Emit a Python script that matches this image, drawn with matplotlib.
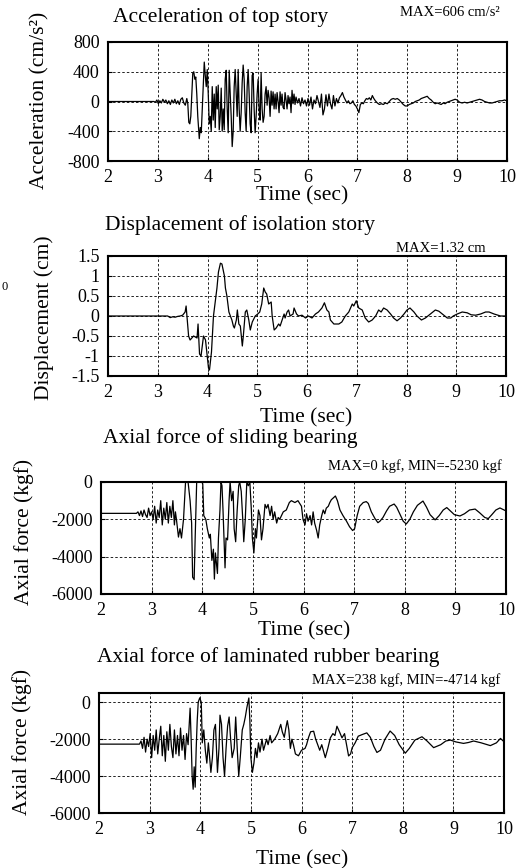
import matplotlib
matplotlib.use("Agg")
import matplotlib.pyplot as plt
from matplotlib.ticker import FormatStrFormatter

plt.rcParams['font.family'] = ['Liberation Serif', 'DejaVu Serif']
plt.rcParams['axes.unicode_minus'] = False

# ---- data: (time [s], value) ----
acc_pts = [
    (2.0, 0), (2.92, 0), (2.95, -10), (2.98, 20), (3.01, -30), (3.04, 10), (3.07, -20), (3.10, 30),
    (3.13, -10), (3.16, 20), (3.19, -30), (3.22, 10), (3.25, -40), (3.28, 20), (3.31, -20), (3.34, 30),
    (3.37, -30), (3.40, 10), (3.43, -40), (3.46, 30), (3.49, 50), (3.52, -20), (3.55, -50), (3.58, 40),
    (3.60, -30), (3.62, -280), (3.64, -300), (3.66, -200), (3.68, 100), (3.70, 380), (3.72, 400),
    (3.74, 300), (3.76, 330), (3.78, 100), (3.80, -200), (3.83, -500), (3.85, -350), (3.87, -420),
    (3.89, -100), (3.91, 200), (3.93, 530), (3.95, 350), (3.97, 200), (3.99, 430), (4.01, 100),
    (4.03, -300), (4.05, -200), (4.07, -400), (4.09, 200), (4.11, -250), (4.13, 100), (4.15, -350),
    (4.17, 200), (4.19, -100), (4.21, 220), (4.23, -380), (4.25, -200), (4.27, 180), (4.29, -400),
    (4.31, -100), (4.33, -380), (4.35, 300), (4.37, 420), (4.39, -100), (4.41, -420), (4.43, 420),
    (4.45, 100), (4.47, -200), (4.49, -606), (4.51, -400), (4.53, 200), (4.55, 430), (4.57, 100),
    (4.59, -200), (4.61, 430), (4.63, -100), (4.65, -400), (4.67, -150), (4.69, 250), (4.71, 490),
    (4.73, 300), (4.75, -150), (4.77, -400), (4.79, 200), (4.81, 430), (4.83, 100), (4.85, -300),
    (4.87, -420), (4.89, 350), (4.91, 380), (4.93, -100), (4.95, -420), (4.97, -200), (4.99, 100),
    (5.01, 300), (5.03, -100), (5.05, -250), (5.07, 380), (5.09, -100), (5.11, -280), (5.13, -200),
    (5.15, 100), (5.17, 200), (5.19, -50), (5.21, 150), (5.23, 50), (5.25, -200), (5.27, 140),
    (5.29, -50), (5.31, 130), (5.33, -100), (5.35, 100), (5.37, -100), (5.39, 120), (5.41, 0),
    (5.43, -150), (5.45, 130), (5.47, -50), (5.49, 100), (5.51, -80), (5.53, -100), (5.55, 120),
    (5.57, 20), (5.59, -100), (5.61, 80), (5.63, -30), (5.65, 60), (5.67, -150), (5.69, 150),
    (5.71, -30), (5.73, 100), (5.75, -40), (5.77, 60), (5.80, -20), (5.83, 40), (5.86, -60),
    (5.89, 50), (5.92, -30), (5.95, 20), (5.98, -60), (6.01, 40), (6.04, -50), (6.07, 60),
    (6.10, -100), (6.13, 20), (6.16, -30), (6.19, 80), (6.22, 0), (6.25, -80), (6.28, 100),
    (6.31, -180), (6.34, -100), (6.37, 90), (6.40, -60), (6.43, 100), (6.46, -30), (6.49, -100),
    (6.52, 80), (6.55, -60), (6.58, 40), (6.61, -20), (6.64, 50), (6.67, 80), (6.70, 120),
    (6.73, 60), (6.76, 20), (6.79, -20), (6.82, 10), (6.85, -30), (6.88, -20), (6.91, 10),
    (6.94, -40), (6.97, -60), (7.00, -100), (7.03, -150), (7.06, -40), (7.09, -20), (7.12, -30),
    (7.15, 10), (7.18, 40), (7.21, 30), (7.24, 50), (7.27, 20), (7.30, 80), (7.33, 40), (7.36, 10),
    (7.40, -20), (7.44, -40), (7.48, -30), (7.52, -40), (7.56, -20), (7.60, -30), (7.64, 0),
    (7.68, 30), (7.72, 40), (7.76, 30), (7.80, 40), (7.84, 20), (7.88, -10), (7.92, -40),
    (7.96, -60), (8.00, -60), (8.04, -40), (8.08, -30), (8.12, -20), (8.16, 0), (8.20, 10),
    (8.24, 20), (8.28, 40), (8.32, 50), (8.36, 60), (8.40, 70), (8.44, 40), (8.48, 20),
    (8.52, -10), (8.56, -30), (8.60, -20), (8.64, -30), (8.68, -40), (8.72, -20), (8.76, -30),
    (8.80, -10), (8.84, 0), (8.88, 10), (8.92, 20), (8.96, 30), (9.00, 20), (9.05, -10),
    (9.10, -20), (9.15, -10), (9.20, -20), (9.25, -10), (9.30, 0), (9.35, 10), (9.40, 20),
    (9.45, 30), (9.50, 20), (9.55, 0), (9.60, -10), (9.65, -20), (9.70, -20), (9.75, -10),
    (9.80, 0), (9.85, 10), (9.90, 10), (9.95, 20), (10.0, 10),
]

disp_pts = [
    (2.0, 0), (3.2, 0), (3.25, -0.04), (3.3, -0.02), (3.35, -0.03), (3.4, -0.01), (3.45, 0.0),
    (3.5, 0.02), (3.55, 0.1), (3.57, 0.25), (3.62, -0.5), (3.65, -0.6), (3.72, -0.5), (3.79, -0.55),
    (3.81, -0.2), (3.84, -0.95), (3.87, -1.0), (3.92, -0.5), (3.96, -0.6), (4.02, -1.3),
    (4.04, -1.35), (4.08, -0.9), (4.12, 0.0), (4.19, 0.7), (4.22, 1.1), (4.26, 1.32), (4.29, 1.3),
    (4.34, 1.0), (4.36, 0.7), (4.39, 0.5), (4.43, 0.1), (4.46, 0.0), (4.49, -0.1), (4.52, -0.25),
    (4.54, -0.3), (4.58, -0.1), (4.60, 0.15), (4.63, -0.2), (4.66, -0.25), (4.70, -0.75),
    (4.72, -0.5), (4.76, 0.1), (4.79, 0.15), (4.83, -0.1), (4.86, -0.35), (4.90, -0.15),
    (4.96, 0.0), (5.01, 0.05), (5.05, 0.1), (5.09, 0.3), (5.13, 0.7), (5.16, 0.6), (5.19, 0.55),
    (5.23, 0.3), (5.28, 0.35), (5.30, 0.0), (5.34, -0.35), (5.38, -0.3), (5.43, -0.2),
    (5.46, -0.25), (5.50, -0.1), (5.54, 0.05), (5.56, -0.05), (5.60, 0.1), (5.63, 0.15),
    (5.66, 0.0), (5.72, 0.05), (5.74, 0.2), (5.79, 0.05), (5.83, 0.0), (5.90, 0.02), (5.97, -0.05),
    (6.03, 0.0), (6.10, -0.05), (6.17, 0.05), (6.23, 0.1), (6.30, 0.2), (6.35, 0.33), (6.40, 0.15),
    (6.44, 0.1), (6.47, -0.1), (6.54, -0.2), (6.64, -0.2), (6.70, -0.15), (6.77, 0.0), (6.84, 0.1),
    (6.91, 0.3), (6.94, 0.25), (6.99, 0.38), (7.04, 0.2), (7.11, 0.15), (7.17, -0.05),
    (7.24, -0.15), (7.31, -0.1), (7.38, 0.0), (7.44, 0.15), (7.49, 0.1), (7.54, 0.2), (7.61, 0.15),
    (7.68, 0.05), (7.74, -0.05), (7.81, -0.12), (7.88, -0.05), (7.95, 0.05), (8.01, 0.15),
    (8.07, 0.2), (8.15, 0.1), (8.21, 0.0), (8.30, -0.1), (8.38, -0.05), (8.48, 0.05), (8.58, 0.15),
    (8.65, 0.12), (8.72, 0.05), (8.82, -0.05), (8.89, -0.05), (8.94, 0.0), (9.02, 0.05),
    (9.12, 0.1), (9.22, 0.08), (9.30, 0.03), (9.39, 0.02), (9.49, 0.05), (9.59, 0.1), (9.66, 0.1),
    (9.76, 0.05), (9.89, 0.0), (10.0, 0.0),
]

slide_pts = [
    (2.0, -1680), (2.70, -1680), (2.73, -1600), (2.76, -1800), (2.79, -1550), (2.82, -1850),
    (2.85, -1500), (2.88, -1750), (2.91, -1900), (2.94, -1400), (2.97, -1800), (3.00, -1600),
    (3.03, -2000), (3.06, -1300), (3.09, -2200), (3.12, -1500), (3.15, -1900), (3.18, -1000),
    (3.21, -2300), (3.24, -1400), (3.27, -2000), (3.30, -1100), (3.33, -2200), (3.36, -1300),
    (3.39, -1900), (3.42, -1000), (3.45, -2300), (3.47, -1600), (3.49, -2000), (3.53, -2950),
    (3.56, -2500), (3.59, -3000), (3.63, -2000), (3.67, 0), (3.72, 0), (3.76, -1000), (3.79, -2200),
    (3.81, -5100), (3.84, -5230), (3.86, -3000), (3.89, 0), (3.99, 0), (4.01, -100), (4.03, -1800),
    (4.07, -2000), (4.10, -2500), (4.14, -3000), (4.16, -2800), (4.19, -4200), (4.22, -3600),
    (4.24, -5200), (4.26, -3800), (4.30, -4900), (4.32, -3000), (4.35, -1500), (4.37, 0),
    (4.39, -200), (4.41, -1500), (4.45, -4600), (4.47, -3000), (4.50, -3100), (4.53, -1000),
    (4.55, 0), (4.58, -1000), (4.61, -500), (4.63, -2500), (4.66, -3200), (4.69, -1500),
    (4.72, -200), (4.74, 0), (4.77, -500), (4.80, -2000), (4.82, -3200), (4.85, -2000), (4.88, 0),
    (4.91, -200), (4.94, 0), (4.97, -1500), (4.99, -3000), (5.02, -3800), (5.05, -2500),
    (5.07, -3000), (5.11, -1500), (5.14, -1800), (5.17, -3100), (5.20, -2500), (5.24, -1200),
    (5.27, -1400), (5.30, -1200), (5.34, -1800), (5.37, -1300), (5.40, -2000), (5.43, -1600),
    (5.47, -2200), (5.50, -1900), (5.53, -2000), (5.60, -1600), (5.66, -1500), (5.72, -1100),
    (5.76, -1000), (5.83, -1100), (5.89, -1000), (5.96, -1300), (5.99, -2000), (6.03, -2300),
    (6.06, -1700), (6.09, -2100), (6.13, -1800), (6.16, -2300), (6.19, -1600), (6.22, -2200),
    (6.26, -2600), (6.29, -3000), (6.32, -2300), (6.36, -1800), (6.39, -1500), (6.42, -1700),
    (6.45, -1400), (6.49, -1300), (6.52, -1100), (6.55, -950), (6.59, -850), (6.63, -750),
    (6.67, -1000), (6.72, -1500), (6.78, -1800), (6.85, -2100), (6.91, -2400), (6.97, -2600),
    (7.01, -2500), (7.06, -1800), (7.11, -1300), (7.18, -1100), (7.24, -1050), (7.28, -1150),
    (7.34, -1600), (7.41, -1950), (7.47, -2180), (7.51, -2100), (7.57, -1900), (7.64, -1550),
    (7.70, -1300), (7.79, -1180), (7.84, -1350), (7.90, -1700), (7.97, -2100), (8.03, -2250),
    (8.10, -2000), (8.17, -1600), (8.25, -1250), (8.36, -1020), (8.43, -1350), (8.50, -1750),
    (8.60, -2030), (8.68, -1800), (8.76, -1500), (8.83, -1370), (8.90, -1550), (8.98, -1750),
    (9.09, -1820), (9.18, -1700), (9.28, -1500), (9.39, -1450), (9.48, -1650), (9.58, -1900),
    (9.65, -1960), (9.72, -1750), (9.80, -1500), (9.88, -1390), (9.95, -1480), (10.0, -1550),
]

rubber_pts = [
    (2.0, -2270), (2.80, -2270), (2.83, -2100), (2.86, -2500), (2.89, -1900), (2.92, -2700),
    (2.95, -2000), (2.98, -2400), (3.01, -1700), (3.04, -3000), (3.07, -1800), (3.10, -2600),
    (3.13, -1500), (3.16, -2800), (3.19, -2000), (3.22, -1300), (3.25, -2900), (3.28, -1800),
    (3.31, -3200), (3.34, -1600), (3.37, -2600), (3.40, -1200), (3.43, -2400), (3.46, -3000),
    (3.49, -1500), (3.52, -2800), (3.55, -1800), (3.58, -2900), (3.61, -1400), (3.64, -2600),
    (3.67, -1800), (3.70, -3100), (3.73, -1700), (3.76, -2300), (3.80, -320), (3.82, -2000),
    (3.84, -4000), (3.86, -4714), (3.88, -3500), (3.90, -4600), (3.92, -2500), (3.94, -1000),
    (3.96, 0), (3.99, 238), (4.02, 0), (4.04, -2200), (4.07, -1500), (4.10, -2600), (4.13, -3300),
    (4.16, -2200), (4.18, -2800), (4.21, -3800), (4.24, -3000), (4.27, -1500), (4.30, -1200),
    (4.34, -3800), (4.37, -2500), (4.39, -700), (4.42, -1200), (4.45, -3000), (4.48, -4000),
    (4.51, -2500), (4.54, -1300), (4.57, -800), (4.60, -2000), (4.63, -3000), (4.67, -2500),
    (4.70, -800), (4.73, -2500), (4.76, -4000), (4.79, -3000), (4.83, -1500), (4.86, -1200),
    (4.89, -800), (4.92, -300), (4.96, 230), (4.98, -1000), (5.00, -3000), (5.03, -3800),
    (5.06, -3300), (5.09, -2500), (5.12, -3000), (5.15, -2200), (5.18, -2700), (5.22, -2000),
    (5.25, -2600), (5.28, -2300), (5.31, -2000), (5.34, -2300), (5.38, -1800), (5.41, -2200),
    (5.47, -2000), (5.53, -1700), (5.59, -1200), (5.62, -1600), (5.66, -1900), (5.69, -1400),
    (5.72, -1000), (5.75, -1500), (5.78, -2500), (5.81, -2000), (5.84, -2300), (5.88, -2800),
    (5.94, -2900), (6.00, -2600), (6.07, -2500), (6.10, -2300), (6.14, -1900), (6.18, -1600),
    (6.24, -1570), (6.28, -2000), (6.32, -2300), (6.36, -2600), (6.40, -2300), (6.44, -2700),
    (6.47, -3000), (6.52, -2500), (6.57, -1930), (6.62, -1700), (6.66, -1800), (6.70, -1300),
    (6.75, -1600), (6.80, -1930), (6.85, -1700), (6.93, -2910), (6.97, -2800), (7.00, -2470),
    (7.06, -2200), (7.12, -1840), (7.20, -1750), (7.29, -1660), (7.36, -1900), (7.43, -2400),
    (7.49, -2720), (7.56, -2600), (7.65, -2000), (7.75, -1560), (7.84, -1800), (7.93, -2300),
    (8.05, -2760), (8.13, -2500), (8.24, -2050), (8.38, -1870), (8.48, -2100), (8.61, -2460),
    (8.75, -2300), (8.85, -2100), (8.94, -2050), (9.05, -2150), (9.20, -2230), (9.30, -2180),
    (9.40, -2100), (9.55, -2200), (9.73, -2350), (9.85, -2200), (9.93, -1960), (10.0, -2140),
]

titles = ["Acceleration of top story", "Displacement of isolation story",
          "Axial force of sliding bearing", "Axial force of laminated rubber bearing"]
ylabels = ["Acceleration (cm/s²)", "Displacement (cm)", "Axial force (kgf)", "Axial force (kgf)"]
notes = ["MAX=606 cm/s²", "MAX=1.32 cm", "MAX=0 kgf, MIN=-5230 kgf", "MAX=238 kgf, MIN=-4714 kgf"]
yticks = [[-800, -400, 0, 400, 800], [-1.5, -1, -0.5, 0, 0.5, 1, 1.5],
          [-6000, -4000, -2000, 0], [-6000, -4000, -2000, 0]]
ylims = [(-800, 800), (-1.5, 1.5), (-6000, 0), (-6000, 500)]
xticks = [2, 3, 4, 5, 6, 7, 8, 9, 10]

W, H = 520, 868
fig = plt.figure(figsize=(W / 100, H / 100), dpi=100)


def px_box(left, top, right, bottom):
    return [left / W, 1 - bottom / H, (right - left) / W, (bottom - top) / H]


# layout in pixels: axes box, title pos, note pos, xlabel pos, ylabel pos
boxes = [(108, 42, 507, 161), (108, 256, 506, 376), (101, 482, 506, 594), (99, 693, 504, 813)]
title_xy = [(113, 17), (105, 225), (103, 438), (97, 657)]
note_xy = [(500, 12), (486, 249), (502, 466), (500, 680)]
xlab_xy = [(302, 196), (306, 418), (304, 631), (302, 860)]
ylab_xy = [(40, 100), (44, 318), (24, 532), (22, 742)]

series = [acc_pts, disp_pts, slide_pts, rubber_pts]

for i, pts in enumerate(series):
    ax = fig.add_axes(px_box(*boxes[i]))
    t = [p[0] for p in pts]
    v = [p[1] for p in pts]
    ax.plot(t, v, color='black', lw=0.9)
    ax.set_xlim(2, 10)
    ax.set_ylim(*ylims[i])
    ax.set_xticks(xticks)
    ax.set_yticks(yticks[i])
    ax.yaxis.set_major_formatter(FormatStrFormatter('%g'))
    ax.grid(True, color='black', ls=(0, (3, 2.5)), lw=0.6)
    for s in ax.spines.values():
        s.set_linewidth(1.5)
    ax.tick_params(direction='in', length=3, labelsize=13, pad=6)

    fig.text(title_xy[i][0] / W, 1 - title_xy[i][1] / H, titles[i], fontsize=15.5,
             ha='left', va='center')
    fig.text(note_xy[i][0] / W, 1 - note_xy[i][1] / H, notes[i], fontsize=10.5,
             ha='right', va='center')
    fig.text(xlab_xy[i][0] / W, 1 - xlab_xy[i][1] / H, "Time (sec)", fontsize=15.5,
             ha='center', va='center')
    fig.text(ylab_xy[i][0] / W, 1 - ylab_xy[i][1] / H, ylabels[i], fontsize=15.5,
             ha='center', va='center', rotation=90)

# stray clipped label at the left edge of the scan
fig.text(2 / W, 1 - 287 / H, "0", fontsize=9, ha='left', va='center')

fig.savefig("out.png", dpi=100)
